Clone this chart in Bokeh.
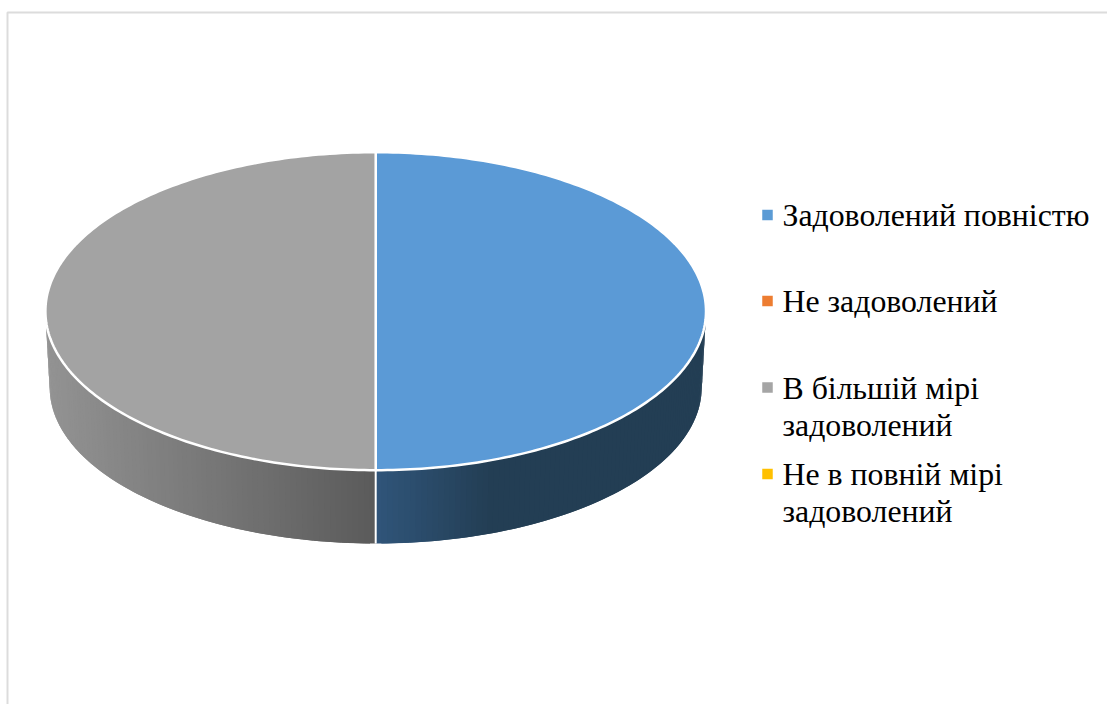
import numpy as np
from bokeh.plotting import figure
from bokeh.models import Range1d
from bokeh.core.properties import value
from bokeh.embed import file_html
from bokeh.resources import INLINE

categories = ["Задоволений повністю", "Не задоволений", "В більшій мірі задоволений", "Не в повній мірі задоволений"]
values = [50, 0, 50, 0]
colors = ["#5b9bd5", "#ed7d31", "#a5a5a5", "#ffc000"]
top_colors = ["#5b9ad6", "#ed7d31", "#a3a3a3", "#ffc000"]
legend_lines = [["Задоволений повністю"], ["Не задоволений"], ["В більшій мірі", "задоволений"], ["Не в повній мірі", "задоволений"]]
legend_y = [214.5, 300.5, 387, 473.5]

W, H = 1107, 704
p = figure(width=W, height=H, x_range=Range1d(0, W), y_range=Range1d(H, 0),
           output_backend="svg", toolbar_location=None, min_border=0,
           outline_line_color=None, background_fill_color="white", border_fill_color="white")
p.xaxis.visible = False
p.yaxis.visible = False
p.grid.visible = False

# chart frame
p.line([7, 7, W], [H, 12, 12], line_color="#dcdcdc", line_width=2)

cx, cy, rx, ry = 375.2, 310.7, 330.3, 159.0
cx2, cy2, rx2, ry2 = 375.2, 387.0, 326.0, 156.0
GAP = 2.5

def lerp(a, b, t):
    return tuple(int(round(a[i] + (b[i] - a[i]) * t)) for i in range(3))

def hexc(c):
    return "#%02x%02x%02x" % c

def wall_color(i, x):
    if i == 0:
        t = min(1.0, max(0.0, (x - cx) / 115.0))
        return hexc(lerp((48, 85, 122), (35, 62, 84), t))
    t = min(1.0, max(0.0, (x - 50) / (cx - 50)))
    return hexc(lerp((146, 146, 146), (91, 91, 91), t))

total = sum(values)
edges = np.cumsum([0] + values) / total * 2 * np.pi

# side wall, built from the slice angles; each band overlaps the next to hide seams
for i, v in enumerate(values):
    if v == 0:
        continue
    lo = max(edges[i], np.pi / 2)
    hi = min(edges[i + 1], 3 * np.pi / 2)
    if hi <= lo:
        continue
    n = int(np.ceil((hi - lo) / np.radians(1.0)))
    th = np.linspace(lo, hi, n + 1)
    order = range(n) if i == 2 else range(n - 1, -1, -1)
    xs, ys, fc = [], [], []
    for k in order:
        if i == 2:
            a, b = th[k], th[min(n, k + 2)]
        else:
            a, b = th[max(0, k - 1)], th[k + 1]
        xs.append([cx + rx * np.sin(a), cx + rx * np.sin(b), cx2 + rx2 * np.sin(b), cx2 + rx2 * np.sin(a)])
        ys.append([cy - ry * np.cos(a), cy - ry * np.cos(b), cy2 - ry2 * np.cos(b), cy2 - ry2 * np.cos(a)])
        mid = (th[k] + th[k + 1]) / 2
        fc.append(wall_color(i, cx + rx * np.sin(mid)))
    p.patches(xs, ys, fill_color=fc, line_color=None)

# top face
for i, v in enumerate(values):
    if v == 0:
        continue
    th = np.linspace(edges[i], edges[i + 1], 181)
    px = np.r_[cx, cx + rx * np.sin(th)]
    py = np.r_[cy, cy - ry * np.cos(th)]
    p.patch(px, py, fill_color=top_colors[i], line_color="white", line_width=GAP, line_join="round")

# white edges between the slices on the wall
for i, v in enumerate(values):
    if v == 0:
        continue
    a = edges[i + 1]
    if np.pi / 2 <= a <= 3 * np.pi / 2:
        p.line([cx + rx * np.sin(a), cx2 + rx2 * np.sin(a)],
               [cy - ry * np.cos(a), cy2 - ry2 * np.cos(a)], line_color="white", line_width=2)

# legend
p.scatter([767] * 4, legend_y, marker="square", size=10.5, fill_color=colors, line_color=None)
tx, ty, tt = [], [], []
for lines, y in zip(legend_lines, legend_y):
    for j, s in enumerate(lines):
        tx.append(782); ty.append(y + 0.5 + j * 37); tt.append(s)
p.text(tx, ty, text=tt, text_font=value("Liberation Serif"), text_font_size="31.8px",
       text_color="#000000", text_baseline="alphabetic", text_align="left")

open("out.html", "w").write(file_html(p, INLINE))
